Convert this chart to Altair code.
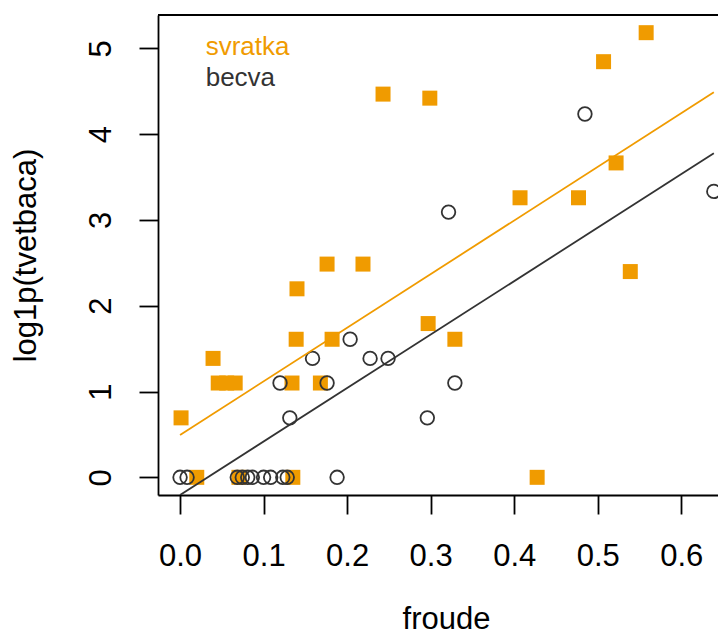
import altair as alt
import pandas as pd

# ---- data ----
svratka_x = [0.0012, 0.020, 0.0395, 0.0457, 0.0558, 0.066, 0.176, 0.219, 0.140, 0.139,
             0.182, 0.134, 0.168, 0.297, 0.0705, 0.135, 0.243, 0.299, 0.558, 0.507,
             0.522, 0.407, 0.477, 0.539, 0.329, 0.4275]
svratka_y = [0.693, 0.0, 1.386, 1.099, 1.099, 1.099, 2.485, 2.485, 2.197, 1.609,
             1.609, 1.099, 1.099, 1.792, 0.0, 0.0, 4.466, 4.419, 5.182, 4.844,
             3.664, 3.258, 3.258, 2.398, 1.609, 0.0]

becva_x = [0.0, 0.0084, 0.0685, 0.0745, 0.081, 0.0865, 0.100, 0.1085, 0.123, 0.1283,
           0.188, 0.1197, 0.1314, 0.1586, 0.176, 0.2036, 0.2275, 0.249, 0.296, 0.3214,
           0.4847, 0.639, 0.329]
becva_y = [0.0, 0.0, 0.0, 0.0, 0.0, 0.0, 0.0, 0.0, 0.0, 0.0,
           0.0, 1.099, 0.693, 1.386, 1.099, 1.609, 1.386, 1.386, 0.693, 3.091,
           4.234, 3.332, 1.099]

fit_x = [0.0, 0.639]
svratka_fit = [0.493, 4.487]
becva_fit = [-0.206, 3.776]

x_ticks = [0.0, 0.1, 0.2, 0.3, 0.4, 0.5, 0.6]
y_ticks = [0, 1, 2, 3, 4, 5]
legend_labels = ["svratka", "becva"]

ORANGE = "#F09B00"
DARK = "#333333"
FONT = "Liberation Sans"

W, H = 560, 480
x_dom = [-0.0264, 0.6440]
y_dom = [-0.206, 5.388]

df_s = pd.DataFrame({"froude": svratka_x, "y": svratka_y})
df_b = pd.DataFrame({"froude": becva_x, "y": becva_y})
df_fs = pd.DataFrame({"froude": fit_x, "y": svratka_fit})
df_fb = pd.DataFrame({"froude": fit_x, "y": becva_fit})

xscale = alt.Scale(domain=x_dom, nice=False, zero=False)
yscale = alt.Scale(domain=y_dom, nice=False, zero=False)

x_axis = alt.Axis(
    values=x_ticks, format=".1f", grid=False, title="froude",
    labelFlush=False, labelOverlap=False,
)
y_axis = alt.Axis(
    values=y_ticks, format="d", grid=False, title="log1p(tvetbaca)",
    labelFlush=False, labelOverlap=False,
)

X = alt.X("froude:Q", scale=xscale, axis=x_axis)
Y = alt.Y("y:Q", scale=yscale, axis=y_axis)

squares = alt.Chart(df_s).mark_point(
    shape="square", filled=True, size=225, color=ORANGE, opacity=1
).encode(x=X, y=Y)

circles = alt.Chart(df_b).mark_point(
    shape="circle", filled=False, size=185, color=DARK, strokeWidth=1.8, opacity=1
).encode(x=X, y=Y)

line_s = alt.Chart(df_fs).mark_line(color=ORANGE, strokeWidth=1.8, clip=True).encode(x=X, y=Y)
line_b = alt.Chart(df_fb).mark_line(color=DARK, strokeWidth=1.8, clip=True).encode(x=X, y=Y)

top_border = alt.Chart(pd.DataFrame({"a": [0]})).mark_rule(
    color="black", strokeWidth=1.8
).encode(x=alt.value(0), x2=alt.value(W), y=alt.value(0))

leg_s = alt.Chart(pd.DataFrame({"label": [legend_labels[0]]})).mark_text(
    font=FONT, fontSize=26, color=ORANGE, align="left", baseline="alphabetic"
).encode(text="label:N", x=alt.value(47.7), y=alt.value(40))
leg_b = alt.Chart(pd.DataFrame({"label": [legend_labels[1]]})).mark_text(
    font=FONT, fontSize=26, color=DARK, align="left", baseline="alphabetic"
).encode(text="label:N", x=alt.value(47.7), y=alt.value(70.7))

chart = alt.layer(
    squares, circles, line_s, line_b, top_border, leg_s, leg_b
).properties(
    width=W, height=H,
    autosize=alt.AutoSizeParams(type="none"),
    padding={"left": 150, "top": 7, "right": 0, "bottom": 140},
).configure_view(
    strokeWidth=0
).configure(
    background="white"
).configure_axis(
    tickSize=19, tickWidth=1.8, tickColor="black",
    domainColor="black", domainWidth=1.8,
    labelFont=FONT, labelFontSize=31, labelColor="black",
    titleFont=FONT, titleFontSize=31, titleFontWeight="normal", titleColor="black",
).configure_axisX(
    labelPadding=51, labelBaseline="alphabetic", labelAlign="center", labelAngle=0,
    titleX=288, titleY=133, titleBaseline="alphabetic", titleAlign="center",
).configure_axisY(
    labelAngle=270, labelAlign="center", labelBaseline="alphabetic", labelPadding=29,
    titleAngle=270, titleX=-123, titleY=240, titleBaseline="alphabetic", titleAlign="center",
)

chart.save("out.html", embed_options={"renderer": "svg", "actions": False})
